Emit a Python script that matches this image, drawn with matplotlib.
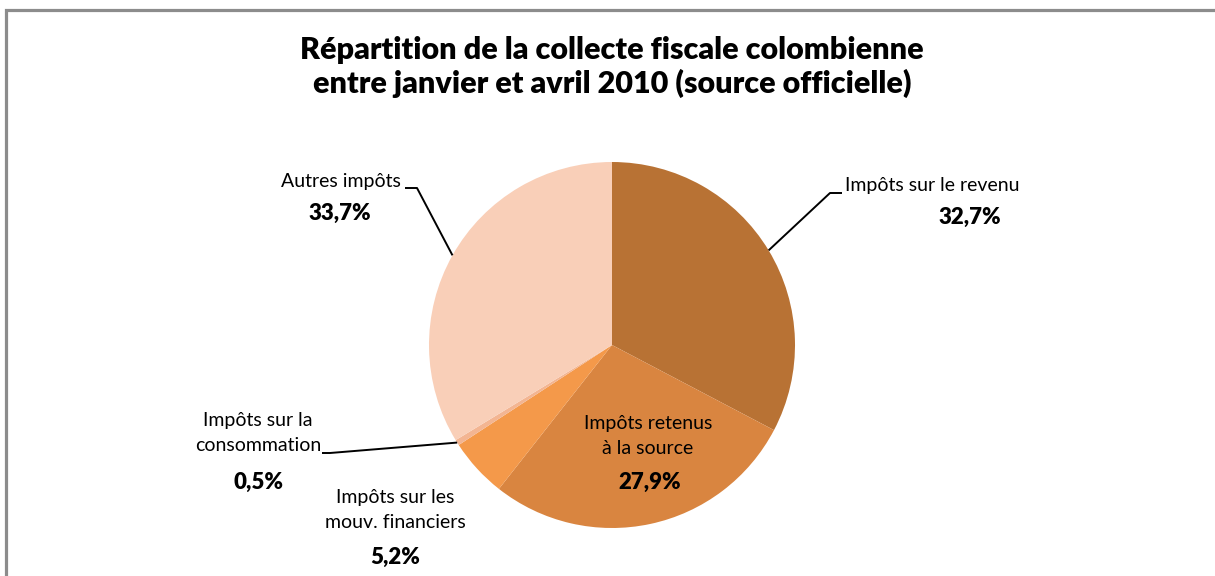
import numpy as np
import matplotlib
matplotlib.use("Agg")
import matplotlib.pyplot as plt

plt.rcParams['font.family'] = ['Lato', 'DejaVu Sans']

# data
names = ["Impôts sur le revenu", "Impôts retenus\nà la source",
         "Impôts sur les\nmouv. financiers", "Impôts sur la\nconsommation",
         "Autres impôts"]
shares = [32.7, 27.9, 5.2, 0.5, 33.7]
pct_labels = ["32,7%", "27,9%", "5,2%", "0,5%", "33,7%"]
colors = ["#B87234", "#D98540", "#F4994A", "#F3B592", "#F9CFB8"]

W, H = 1215, 576
fig = plt.figure(figsize=(W / 100, H / 100), dpi=100)
ax = fig.add_axes([0, 0, 1, 1])

cx, cy, r = 612, H - 345, 183
wedges, _ = ax.pie(shares, colors=colors, startangle=90, counterclock=False,
                   center=(cx, cy), radius=r, frame=True,
                   wedgeprops=dict(linewidth=0))
ax.set_xlim(0, W)
ax.set_ylim(0, H)
ax.set_aspect("equal")
ax.axis("off")

# label placement (pixel positions from top-left) and horizontal anchor
name_pos = [(845, 186), (648, 436), (395, 510), (321, 433), (401, 182)]
name_ha = ["left", "center", "center", "right", "right"]
pct_pos = [(970, 217), (650, 482), (395, 557), (258, 482), (340, 213)]
# leader line knees
leaders = {0: [(830, 193), (842, 193)],
           3: [(330, 453), (322, 453)],
           4: [(417, 188), (405, 188)]}

for i, w in enumerate(wedges):
    nx, ny = name_pos[i]
    px, py = pct_pos[i]
    ax.text(nx, H - ny, names[i], ha=name_ha[i], va="center",
            multialignment="center", fontsize=14, linespacing=1.6,
            color="black")
    ax.text(px, H - py, pct_labels[i], ha="center", va="center", fontsize=16,
            fontweight="heavy", color="black")
    if i in leaders:
        mid = np.deg2rad((w.theta1 + w.theta2) / 2)
        xs = [cx + r * np.cos(mid)] + [p[0] for p in leaders[i]]
        ys = [cy + r * np.sin(mid)] + [H - p[1] for p in leaders[i]]
        ax.plot(xs, ys, color="black", lw=1.4, solid_capstyle="butt")

ax.text(612, H - 50, "Répartition de la collecte fiscale colombienne",
        ha="center", va="center", fontsize=22, fontweight="heavy")
ax.text(612, H - 83, "entre janvier et avril 2010 (source officielle)",
        ha="center", va="center", fontsize=22, fontweight="heavy")

# chart frame (top and left visible)
ax.plot([6, 6, W], [0, H - 10, H - 10], color="#8c8c8c", lw=2.3,
        solid_joinstyle="miter")

fig.savefig("out.png", dpi=100)
